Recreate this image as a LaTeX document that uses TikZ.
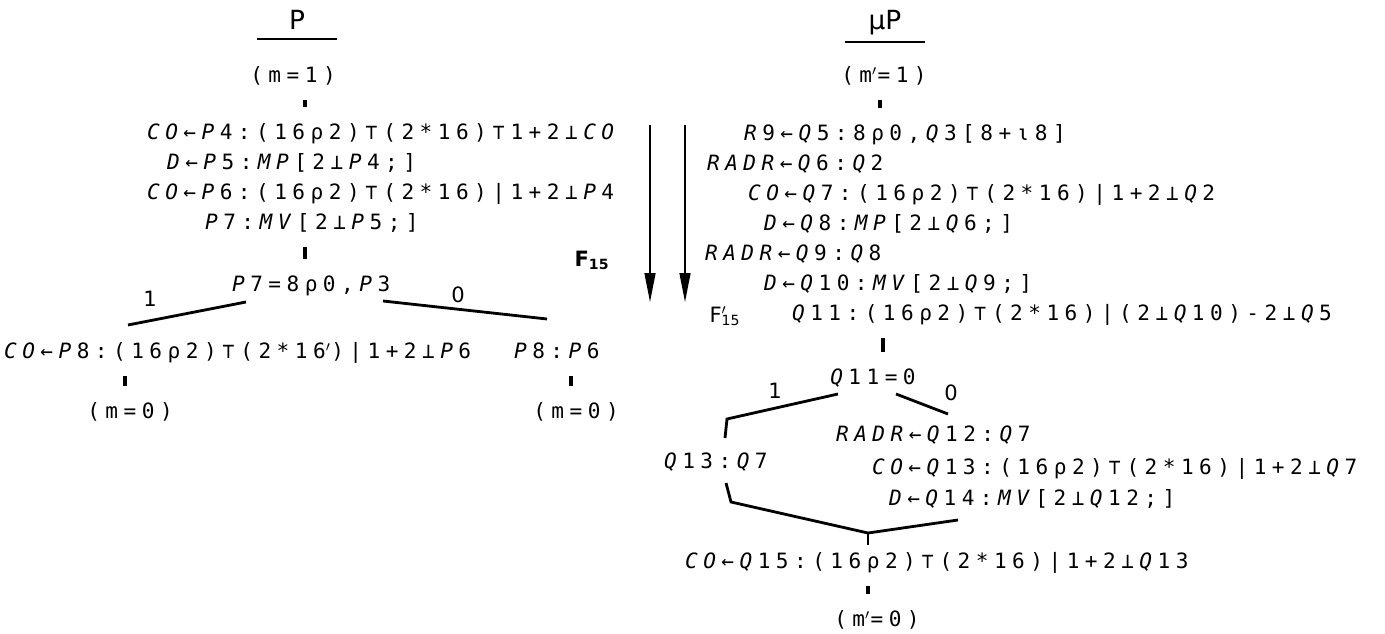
\documentclass[tikz,border=0pt]{standalone}
\usepackage{fontspec}
\usepackage{tikz}
\usetikzlibrary{arrows.meta,calc}
\newfontfamily\aplfont[LetterSpace=26]{DejaVu Sans Mono}
\newfontfamily\handfont{DejaVu Sans}
% italic names; the kern puts back the letter gap lost before a font change
\newcommand{\vn}[1]{\kern.26em\textit{#1}}
\newcommand{\vs}[1]{\textit{#1}}
\newcommand{\pr}{\rlap{$^{\prime}$}\kern.26em}

\begin{document}
\begin{tikzpicture}[x=0.02cm, y=-0.02cm,
    stmt/.style={font=\aplfont\fontsize{12}{14}\selectfont, inner sep=1pt, anchor=west, text height=9.4pt, text depth=2.8pt},
    cnt/.style={font=\aplfont\fontsize{12}{14}\selectfont, inner sep=1pt, text height=9.4pt, text depth=2.8pt},
    ttl/.style={font=\handfont\fontsize{15}{17}\selectfont, inner sep=2pt, anchor=base},
    tick/.style={line width=2pt, shorten <=6pt, shorten >=8pt},
    br/.style={line width=1.6pt},
    flow/.style={-{Triangle[length=0.58cm, width=0.22cm]}, line width=0.8pt},
    lbl/.style={font=\handfont\large, inner sep=1pt}
]
    \useasboundingbox (0,0) rectangle (1385,634);

    % program P
    \node[ttl] (ptitle) at (297,30) {P};
    \draw[line width=1pt] ($(ptitle.base)+(-40,9)$) -- ($(ptitle.base)+(40,9)$);
    \node[cnt] (mone) at (293,77) {(m=1)};
    \node[stmt] (lone) at (145,134) {\vs{CO}←\vn{P}4:(16ρ2)⊤(2*16)⊤1+2⊥\vn{CO}};
    \node[stmt] (ltwo) at (165,164) {\vs{D}←\vn{P}5:\vn{MP}[2⊥\vn{P}4;]};
    \node[stmt] (lthree) at (145,194) {\vs{CO}←\vn{P}6:(16ρ2)⊤(2*16)|1+2⊥\vn{P}4};
    \node[stmt] (lfour) at (203,224) {\vs{P}7:\vn{MV}[2⊥\vn{P}5;]};
    \node[stmt] (pcond) at (230,286) {\vs{P}7=8ρ0,\vn{P}3};
    \node[stmt] (lyes) at (2,353) {\vs{CO}←\vn{P}8:(16ρ2)⊤(2*16\pr)|1+2⊥\vn{P}6};
    \node[stmt] (lno) at (512,353) {\vs{P}8:\vn{P}6};
    \node[cnt] (mzero) at (130,413) {(m=0)};
    \node[cnt] (mzerob) at (576,413) {(m=0)};

    \coordinate (tka) at (305,0);
    \coordinate (tkb) at (305,0);
    \coordinate (tkc) at (125,0);
    \coordinate (tkd) at (571,0);
    \draw[tick] (mone.south -| tka) -- (lone.north -| tka);
    \draw[tick] (lfour.south -| tkb) -- (pcond.north -| tkb);
    \draw[tick] (lyes.south -| tkc) -- (mzero.north -| tkc);
    \draw[tick] (lno.south -| tkd) -- (mzerob.north -| tkd);

    % branches of P7
    \coordinate (pya) at (246,302);
    \coordinate (pyb) at (128,325);
    \coordinate (pna) at (383,301);
    \coordinate (pnb) at (547,319);
    \draw[br] (pya) -- (pyb);
    \draw[br] (pna) -- (pnb);
    \node[lbl] (pyl) at (150,299) {1};
    \node[lbl] (pnl) at (458,295) {0};

    % F15 arrows
    \coordinate (fa) at (650,125);
    \coordinate (fb) at (650,302);
    \coordinate (fc) at (685,125);
    \coordinate (fd) at (685,302);
    \draw[flow] (fa) -- (fb);
    \draw[flow] (fc) -- (fd);
    \node[lbl, font=\handfont\bfseries\large] (ff) at (592,260) {F\textsubscript{15}};
    \node[lbl, font=\handfont\large] (ffp) at (725,316) {F\rlap{$^{\prime}$}\textsubscript{15}};

    % program muP
    \node[ttl] (mptitle) at (885,30) {μP};
    \draw[line width=1pt] ($(mptitle.base)+(-40,12)$) -- ($(mptitle.base)+(40,12)$);
    \node[cnt] (mpone) at (884,77) {(m\pr=1)};
    \node[stmt] (rone) at (742,135) {\vs{R}9←\vn{Q}5:8ρ0,\vn{Q}3[8+ι8]};
    \node[stmt] (rtwo) at (705,165) {\vs{RADR}←\vn{Q}6:\vn{Q}2};
    \node[stmt] (rthree) at (746,195) {\vs{CO}←\vn{Q}7:(16ρ2)⊤(2*16)|1+2⊥\vn{Q}2};
    \node[stmt] (rfour) at (762,225) {\vs{D}←\vn{Q}8:\vn{MP}[2⊥\vn{Q}6;]};
    \node[stmt] (rfive) at (703,255) {\vs{RADR}←\vn{Q}9:\vn{Q}8};
    \node[stmt] (rsix) at (762,285) {\vs{D}←\vn{Q}10:\vn{MV}[2⊥\vn{Q}9;]};
    \node[stmt] (relev) at (790,315) {\vs{Q}11:(16ρ2)⊤(2*16)|(2⊥\vn{Q}10)-2⊥\vn{Q}5};
    \node[cnt] (qcond) at (873,379) {\vs{Q}11=0};
    \node[stmt] (rno) at (834,436) {\vs{RADR}←\vn{Q}12:\vn{Q}7};
    \node[stmt] (ryes) at (662,463) {\vs{Q}13:\vn{Q}7};
    \node[stmt] (rnob) at (870,469) {\vs{CO}←\vn{Q}13:(16ρ2)⊤(2*16)|1+2⊥\vn{Q}7};
    \node[stmt] (rnoc) at (887,500) {\vs{D}←\vn{Q}14:\vn{MV}[2⊥\vn{Q}12;]};
    \node[stmt] (qlast) at (683,563) {\vs{CO}←\vn{Q}15:(16ρ2)⊤(2*16)|1+2⊥\vn{Q}13};
    \node[cnt] (mpzero) at (877,621) {(m\pr=0)};

    \coordinate (tke) at (880,0);
    \coordinate (tkf) at (883,0);
    \coordinate (tkg) at (868,0);
    \draw[tick] (mpone.south -| tke) -- (rone.north -| tke);
    \draw[tick] (relev.south -| tkf) -- (qcond.north -| tkf);
    \draw[tick] (qlast.south -| tkg) -- (mpzero.north -| tkg);

    % branches of Q11 and join
    \coordinate (qya) at (838,394);
    \coordinate (qyb) at (727,419);
    \coordinate (qyc) at (725,438);
    \coordinate (qna) at (896,394);
    \coordinate (qnb) at (948,414);
    \draw[br] (qya) -- (qyb) -- (qyc);
    \draw[br] (qna) -- (qnb);
    \node[lbl] (qyl) at (775,391) {1};
    \node[lbl] (qnl) at (951,393) {0};
    \coordinate (ja) at (726,483);
    \coordinate (jb) at (731,502);
    \coordinate (jc) at (868,533);
    \coordinate (jd) at (958,520);
    \draw[br] (ja) -- (jb) -- (jc) -- (jd);
    \draw[br] (jc) -- ++(0,12);
\end{tikzpicture}
\end{document}
